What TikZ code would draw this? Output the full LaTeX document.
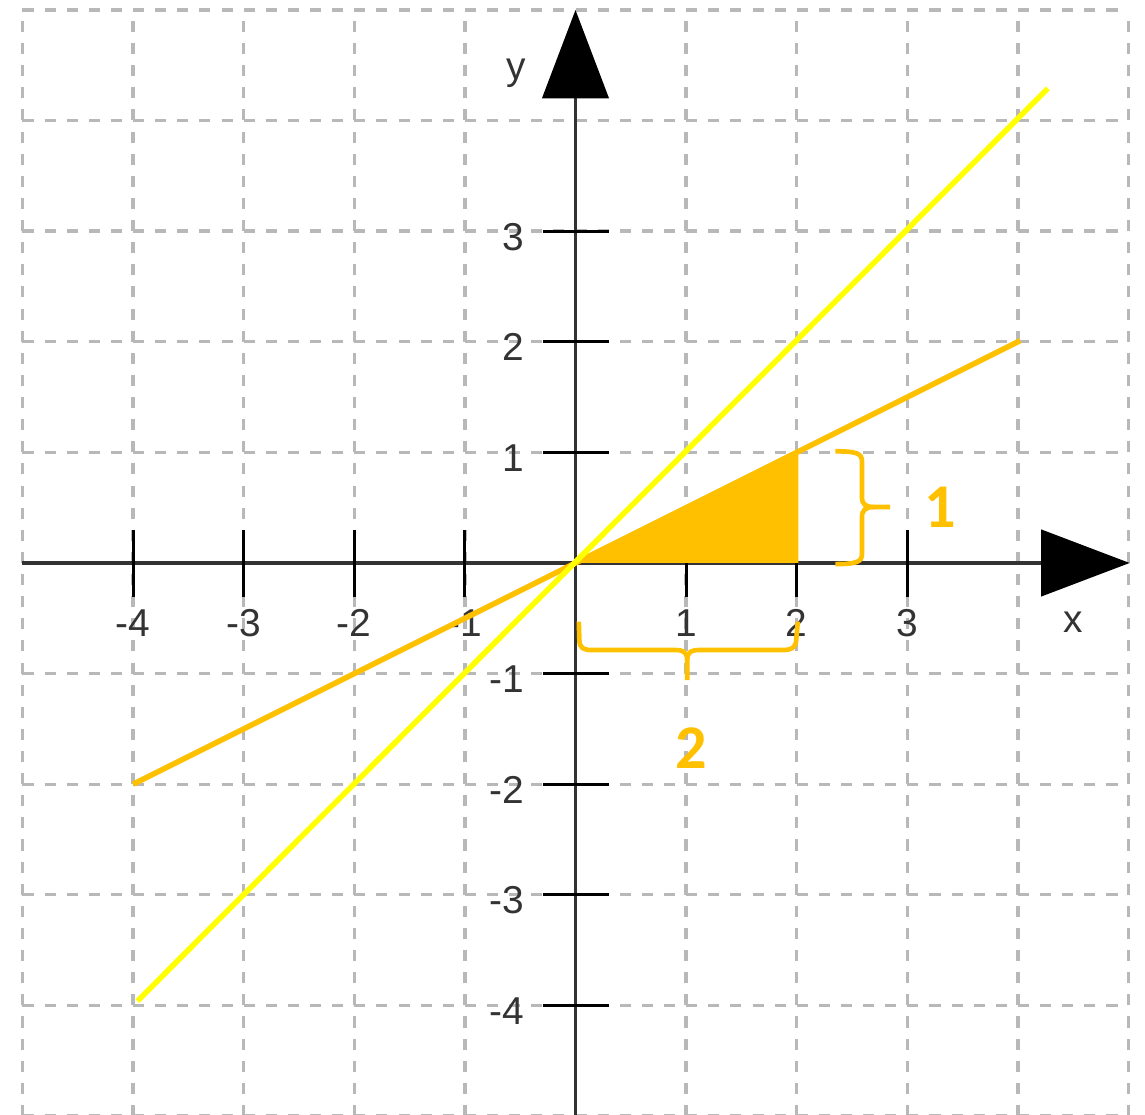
\documentclass[tikz,border=0pt]{standalone}
\usepackage{fontspec}
\newfontfamily\tickfont{Liberation Sans}
\newfontfamily\bracefont{Carlito}
\usepackage{tikz}
\usetikzlibrary{arrows.meta, positioning}
\usepackage{xcolor}
\definecolor{amber}{RGB}{255,192,0}
\definecolor{lemon}{RGB}{255,255,0}

\begin{document}
\begin{tikzpicture}[
        gridline/.style={draw=black!28, line width=0.03cm, dash pattern=on 0.1cm off 0.1cm},
        axis/.style={draw=black!80, line width=0.028cm, -{Triangle[length=0.8cm, width=0.6cm, black]}},
        tickmark/.style={draw=black, line width=0.028cm},
        ticklbl/.style={font=\tickfont\fontsize{10}{12}\selectfont, text=black!80, inner sep=0pt},
        bracelbl/.style={font=\bracefont\bfseries\fontsize{16}{19}\selectfont, text=amber, inner sep=0pt},
        brace/.style={draw=amber, line width=0.042cm},
        slope/.style={line width=0.05cm}
    ]
        \useasboundingbox (-5.203,-4.99) rectangle (5.149,5.09);

        % Raster
        \draw[gridline] (-5,-5) grid (5,5);

        % Achsen
        \coordinate (xs) at (-5,0);
        \coordinate (xe) at (5.01,0);
        \coordinate (ys) at (0,-5);
        \coordinate (ye) at (0,5.0);
        \draw[axis] (xs) -- (xe);
        \draw[axis] (ys) -- (ye);

        \foreach \t in {-4,-3,-2,-1,1,2,3} {
            \draw[tickmark] (\t,-0.31) -- (\t,0.3);
            \node[ticklbl] (xl\t) at (\t,-0.54) {\t};
            \draw[tickmark] (-0.29,\t) -- (0.3,\t);
            \node[ticklbl, anchor=east] (yl\t) at (-0.457,\t-0.05) {\t};
        }

        \node[ticklbl] (xlab) at (4.50,-0.54) {x};
        \node[ticklbl] (ylab) at (-0.54,4.43) {y};

        % Geraden
        \coordinate (O) at (0,0);
        \coordinate (A) at (2.016,0);
        \coordinate (B) at (2.016,1.008);
        \coordinate (ostart) at (-4,-2);
        \coordinate (oend) at (4.02,2.01);
        \coordinate (ystart) at (-3.96,-3.96);
        \coordinate (yend) at (4.27,4.29);

        \draw[slope, amber] (ostart) -- (oend);
        \fill[amber] (O) -- (A) -- (B) -- cycle; % Steigungsdreieck
        \draw[slope, lemon] (ystart) -- (yend);

        % Klammern
        \draw[brace] (2.35,1.01) .. controls (2.54,1.01) and (2.59,0.99) .. (2.59,0.92)
            -- (2.59,0.6) .. controls (2.59,0.53) and (2.62,0.506) .. (2.70,0.506) -- (2.845,0.506);
        \draw[brace] (2.70,0.506) .. controls (2.62,0.506) and (2.59,0.48) .. (2.59,0.41)
            -- (2.59,0.08) .. controls (2.59,0.01) and (2.54,-0.01) .. (2.35,-0.01);
        \node[bracelbl] (one) at (3.30,0.506) {1};

        \draw[brace] (0.03,-0.53) -- (0.035,-0.70) .. controls (0.04,-0.77) and (0.07,-0.787) .. (0.15,-0.787)
            -- (0.90,-0.787) .. controls (0.97,-0.787) and (1.01,-0.80) .. (1.01,-0.88) -- (1.01,-1.06);
        \draw[brace] (1.01,-0.88) .. controls (1.01,-0.80) and (1.05,-0.787) .. (1.12,-0.787)
            -- (1.87,-0.787) .. controls (1.95,-0.787) and (1.99,-0.77) .. (1.995,-0.70) -- (2.01,-0.53);
        \node[bracelbl] (two) at (1.05,-1.67) {2};

\end{tikzpicture}
\end{document}
